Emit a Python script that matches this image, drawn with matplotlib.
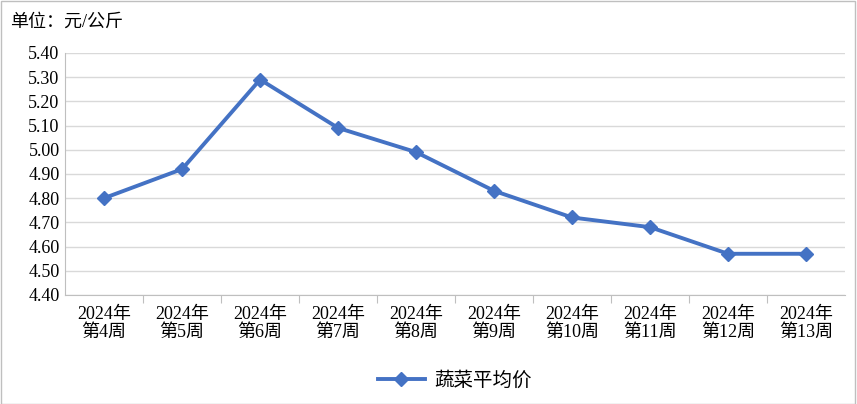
import matplotlib
matplotlib.use("Agg")
import matplotlib.pyplot as plt

plt.rcParams['font.family'] = ['Liberation Serif', 'Noto Sans CJK SC']

weeks = ["2024年\n第4周", "2024年\n第5周", "2024年\n第6周", "2024年\n第7周", "2024年\n第8周",
         "2024年\n第9周", "2024年\n第10周", "2024年\n第11周", "2024年\n第12周", "2024年\n第13周"]
prices = [4.80, 4.92, 5.29, 5.09, 4.99, 4.83, 4.72, 4.68, 4.57, 4.57]
yticks = [4.40 + 0.10 * i for i in range(11)]

fig = plt.figure(figsize=(8.57, 4.04), dpi=100)
fig.patches.append(plt.Rectangle((0.001, 0.001), 0.997, 0.997, transform=fig.transFigure,
                                 fill=False, edgecolor="#bfbfbf", lw=1))
ax = fig.add_axes([0.076, 0.270, 0.910, 0.599])
x = list(range(len(weeks)))
ax.plot(x, prices, color="#4472c4", lw=2.8, marker="D", ms=7, label="蔬菜平均价")
ax.set_xlim(-0.5, len(weeks) - 0.5)
ax.set_ylim(4.40, 5.40)
ax.set_yticks(yticks)
ax.set_yticklabels([f"{v:.2f}" for v in yticks], fontsize=13)
ax.set_xticks([i + 0.5 for i in x[:-1]], minor=False)
ax.set_xticklabels([])
ax.set_xticks(x, minor=True)
ax.set_xticklabels(weeks, minor=True, fontsize=13, linespacing=1.05)
ax.tick_params(axis="x", which="minor", length=0, pad=8)
ax.tick_params(axis="x", which="major", length=6, color="#bfbfbf")
ax.tick_params(axis="y", length=0, pad=4)
ax.grid(axis="y", color="#d9d9d9", lw=1)
ax.set_axisbelow(True)
for s in ["top", "right"]:
    ax.spines[s].set_visible(False)
ax.spines["left"].set_color("#bfbfbf")
ax.spines["bottom"].set_color("#bfbfbf")
fig.text(0.012, 0.935, "单位：元/公斤", fontsize=13)
ax.legend(loc="upper center", bbox_to_anchor=(0.5, -0.245), frameon=False, fontsize=14,
          handlelength=2.4, handletextpad=0.5)
fig.savefig("out.png")
